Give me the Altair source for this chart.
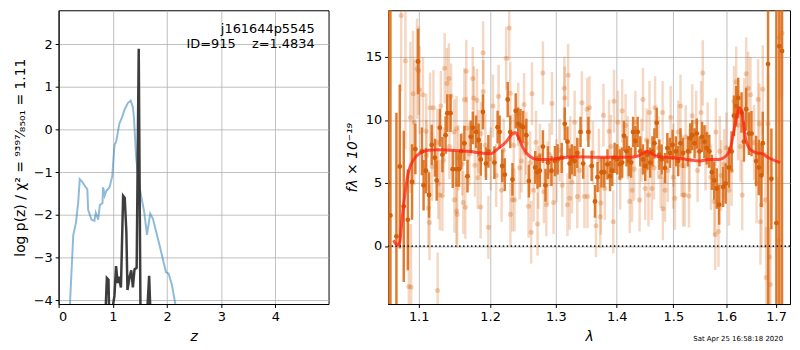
import altair as alt
import pandas as pd

# ---------------- left panel: log p(z) ----------------
blue_z = [0.19, 0.21, 0.27, 0.32, 0.36, 0.39, 0.44, 0.50, 0.53, 0.545, 0.605, 0.66, 0.685, 0.73, 0.76,
          0.81, 0.82, 0.85, 0.88, 0.94, 0.99, 1.03, 1.06, 1.09, 1.12, 1.17, 1.22, 1.28, 1.33, 1.37,
          1.39, 1.43, 1.49, 1.58, 1.63, 1.69, 1.74, 1.86, 1.98, 2.03, 2.09, 2.16, 2.25]
blue_lp = [-5.0, -4.07, -2.48, -2.18, -1.73, -1.16, -1.23, -1.35, -1.40, -1.88, -2.11, -2.14, -1.95, -2.11, -1.77,
           -1.72, -1.35, -1.55, -1.44, -1.35, -1.09, -0.36, -0.29, -0.08, 0.14, 0.29, 0.48, 0.63, 0.68, 0.53,
           0.28, -0.65, -1.33, -1.94, -2.47, -1.97, -2.09, -2.70, -3.34, -3.38, -3.64, -4.14, -5.0]

black_z = [0.86, 0.87, 0.89, 0.92, 0.93, 0.95, 1.00, 1.03, 1.06, 1.09, 1.11, 1.15, 1.19, 1.22,
           1.25, 1.27, 1.31, 1.34, 1.37, 1.40, 1.44, 1.478, 1.51, 1.55, 1.64, 1.67, 1.69, 1.72]
black_lp = [-6, -4.14, -3.48, -3.52, -4.14, -6, -4.14, -3.9, -3.2, -3.6, -3.45, -3.7, -1.55, -1.6,
            -2.4, -3.76, -3.45, -3.3, -3.7, -3.28, -3.24, 1.9, -4.2, -6, -4.14, -3.43, -4.14, -6]

label_lines = ["j161644p5545", "ID=915\u00a0\u00a0\u00a0\u00a0z=1.4834"]

# ---------------- right panel: spectrum ----------------
dark_lam = [1.0600, 1.0628, 1.0706, 1.0750, 1.0802, 1.0856, 1.0912, 1.0956, 1.0991, 1.1044, 1.1066, 1.1097,
            1.1140, 1.1176, 1.1221, 1.1244, 1.1287, 1.1323, 1.1367, 1.1390, 1.1435, 1.1466, 1.1518, 1.1554,
            1.1584, 1.1630, 1.1674, 1.1720, 1.1750, 1.1797, 1.1833, 1.1864, 1.1896, 1.1940, 1.1975, 1.2063,
            1.2110, 1.2140, 1.2179, 1.2216, 1.2260, 1.2298, 1.2331, 1.2380, 1.2418, 1.2452, 1.2492, 1.2541,
            1.2580, 1.2678, 1.2712, 1.2749, 1.2797, 1.2837, 1.2876, 1.2931, 1.2986, 1.3028, 1.3093, 1.3142,
            1.3185, 1.3221, 1.3258, 1.3301, 1.3344, 1.3397, 1.3440, 1.3526, 1.3580, 1.3635, 1.3677, 1.3743,
            1.3788, 1.3843, 1.3887, 1.3925, 1.3965, 1.4009, 1.4054, 1.4094, 1.4124, 1.4169, 1.4208, 1.4247,
            1.4282, 1.4322, 1.4362, 1.4408, 1.4455, 1.4495, 1.4535, 1.4583, 1.4623, 1.4658, 1.4699, 1.4747,
            1.4789, 1.4849, 1.4891, 1.4939, 1.4986, 1.5047, 1.5089, 1.5131, 1.5178, 1.5270, 1.5312, 1.5349,
            1.5393, 1.5435, 1.5485, 1.5533, 1.5578, 1.5621, 1.5671, 1.5721, 1.5766, 1.5815, 1.5861, 1.5937,
            1.5988, 1.6052, 1.6103, 1.6149, 1.6194, 1.6233, 1.6299, 1.6346, 1.6392, 1.6445, 1.6497, 1.6591,
            1.6645, 1.6698, 1.6726, 1.6834, 1.6902, 1.7005, 1.7067, 1.7122]
dark_flux = [5.0, 2.43, 0.77, 6.31, 3.15, 2.08, 5.08, 7.69, 14.64, 7.51, 4.82, 5.97,
             4.05, 8.02, 7.00, 5.20, 9.38, 7.25, 8.79, 10.54, 10.54, 6.10, 6.10, 6.10,
             7.51, 8.15, 5.54, 8.66, 9.38, 9.05, 8.41, 6.87, 10.64, 6.54, 7.51, 6.62,
             9.43, 9.05, 6.35, 5.66, 11.62, 9.05, 5.28, 10.72, 9.69, 9.56, 9.43, 8.79,
             5.15, 6.23, 5.85, 5.97, 7.89, 4.82, 6.62, 5.97, 6.74, 6.87, 7.00, 9.69,
             8.28, 6.54, 6.87, 6.74, 7.38, 9.05, 6.54, 9.05, 6.35, 3.54, 5.46, 5.85,
             5.85, 6.48, 5.54, 5.97, 7.00, 6.87, 6.48, 6.62, 8.74, 7.51, 6.74, 6.62,
             9.05, 8.33, 9.05, 7.51, 6.87, 6.35, 7.25, 6.62, 7.51, 8.15, 9.77, 7.25,
             6.87, 6.18, 7.77, 7.38, 8.02, 7.51, 6.74, 8.15, 7.38, 7.51, 8.54, 8.79,
             8.15, 8.92, 7.51, 8.66, 8.28, 7.77, 7.51, 5.85, 5.20, 4.56, 3.28, 4.69,
             4.95, 6.23, 7.50, 10.33, 11.10, 11.74, 10.59, 8.28, 10.85, 8.92, 8.92, 6.74,
             6.23, 5.60, 8.15, 14.43, 5.33, 1.82, 15.85, 15.46]
dark_err = [25, 25, 9.8, 6.5, 6.0, 4.0, 3.0, 2.0, 2.6, 1.9, 2.0, 1.8,
            1.8, 1.6, 1.5, 1.6, 1.5, 1.4, 1.5, 1.5, 1.5, 1.5, 1.4, 1.4,
            1.4, 1.4, 1.3, 1.3, 1.3, 1.3, 1.3, 1.3, 1.4, 1.3, 1.3, 1.3,
            1.3, 1.3, 1.3, 1.3, 1.4, 1.3, 1.3, 1.4, 1.3, 1.3, 1.3, 1.3,
            1.3, 1.3, 1.3, 1.3, 1.3, 1.3, 1.3, 1.2, 1.2, 1.2, 1.2, 1.3,
            1.2, 1.2, 1.2, 1.2, 1.2, 1.2, 1.2, 1.2, 1.2, 1.3, 1.2, 1.2,
            1.2, 1.2, 1.2, 1.2, 1.2, 1.2, 1.2, 1.2, 1.2, 1.2, 1.2, 1.2,
            1.2, 1.2, 1.2, 1.2, 1.2, 1.2, 1.2, 1.2, 1.2, 1.2, 1.2, 1.2,
            1.2, 1.2, 1.2, 1.2, 1.2, 1.2, 1.2, 1.2, 1.2, 1.2, 1.2, 1.2,
            1.2, 1.2, 1.2, 1.2, 1.3, 1.3, 1.3, 1.4, 1.5, 1.6, 1.6, 1.6,
            1.6, 1.6, 1.6, 1.6, 1.6, 1.6, 1.6, 1.6, 1.7, 1.7, 1.8, 2.0,
            2.2, 2.5, 2.5, 25, 4.0, 25, 25, 25]

light_lam = [1.0768, 1.0824, 1.0869, 1.0890, 1.0899, 1.0925, 1.0942, 1.0978, 1.1000, 1.1013, 1.1057, 1.1101,
             1.1105, 1.1132, 1.1146, 1.1154, 1.1180, 1.1199, 1.1250, 1.1257, 1.1266, 1.1287, 1.1301, 1.1323,
             1.1340, 1.1354, 1.1385, 1.1412, 1.1420, 1.1443, 1.1487, 1.1490, 1.1518, 1.1519, 1.1528, 1.1545,
             1.1600, 1.1613, 1.1630, 1.1644, 1.1657, 1.1664, 1.1700, 1.1750, 1.1764, 1.1780, 1.1809, 1.1822,
             1.1831, 1.1862, 1.1866, 1.1898, 1.1900, 1.1930, 1.1975, 1.2010, 1.2042, 1.2090, 1.2124, 1.2169,
             1.2200, 1.2237, 1.2283, 1.2298, 1.2300, 1.2331, 1.2350, 1.2361, 1.2418, 1.2440, 1.2467, 1.2507,
             1.2520, 1.2541, 1.2575, 1.2600, 1.2615, 1.2628, 1.2653, 1.2690, 1.2714, 1.2725, 1.2750, 1.2797,
             1.2812, 1.2850, 1.2870, 1.2901, 1.2939, 1.2964, 1.3011, 1.3060, 1.3102, 1.3135, 1.3142, 1.3185,
             1.3196, 1.3221, 1.3230, 1.3258, 1.3301, 1.3344, 1.3380, 1.3419, 1.3461, 1.3505, 1.3510, 1.3543,
             1.3600, 1.3651, 1.3700, 1.3722, 1.3733, 1.3776, 1.3799, 1.3870, 1.3900, 1.3942, 1.3954, 1.4021,
             1.4060, 1.4094, 1.4152, 1.4190, 1.4225, 1.4265, 1.4300, 1.4322, 1.4396, 1.4430, 1.4455, 1.4495,
             1.4520, 1.4553, 1.4570, 1.4611, 1.4650, 1.4670, 1.4730, 1.4771, 1.4806, 1.4810, 1.4849, 1.4900,
             1.4951, 1.4997, 1.5000, 1.5028, 1.5089, 1.5131, 1.5150, 1.5178, 1.5209, 1.5227, 1.5288, 1.5300,
             1.5349, 1.5422, 1.5450, 1.5515, 1.5547, 1.5600, 1.5640, 1.5702, 1.5766, 1.5785, 1.5797, 1.5848,
             1.5873, 1.5900, 1.5957, 1.6000, 1.6052, 1.6103, 1.6149, 1.6194, 1.6230, 1.6279, 1.6312, 1.6350,
             1.6392, 1.6431, 1.6477, 1.6550, 1.6600, 1.6631, 1.6658, 1.6678, 1.6698, 1.6726, 1.6780, 1.6794,
             1.6834, 1.6861, 1.6881, 1.7040, 1.7067, 1.7122]
light_flux = [18.28, 14.69, -3.21, 10.20, -3.26, 12.08, 9.82, 14.05, 13.92, 12.38, 12.00, 9.10,
              7.20, 3.02, 1.87, 10.97, 6.30, 10.97, 8.20, -3.52, 4.95, 4.05, 11.10, 4.00,
              6.80, 14.10, 12.90, 13.28, 7.90, 11.87, 9.05, 3.66, 2.77, 9.30, 2.51, 7.00,
              6.50, 3.46, 11.62, 3.08, 13.87, 9.35, 7.30, 13.28, 11.74, 6.40, 11.56, 5.41,
              8.28, 3.10, 8.92, 15.33, 12.25, 8.00, 1.48, 6.90, 11.10, 5.60, 11.87, 4.43,
              7.60, 14.90, 17.30, 12.12, 2.51, 3.66, 8.00, 3.66, 10.46, 6.20, 6.74, 11.23,
              7.40, 8.15, 3.15, 6.60, 1.10, 12.08, 4.43, 8.23, 1.74, 5.46, 7.20, 13.72,
              4.31, 3.28, 5.80, 7.25, 11.31, 3.46, 5.97, 7.60, 4.82, 12.51, 11.74, 3.28,
              13.54, 3.79, 7.80, 5.08, 9.82, 3.92, 6.00, 11.36, 3.92, 10.85, 3.92, 10.97,
              7.40, 1.61, 6.80, 2.33, 3.41, 10.38, 4.56, 9.10, 7.90, 1.92, 11.48, 9.82,
              5.40, 10.72, 9.56, 7.80, 3.54, 4.43, 6.10, 9.82, 3.66, 7.60, 11.62, 4.56,
              8.40, 4.05, 10.59, 4.56, 6.20, 10.97, 7.80, 5.51, 10.59, 2.95, 4.43, 6.00,
              10.20, 5.46, 7.20, 3.79, 9.05, 11.10, 6.40, 4.05, 4.05, 8.66, 3.97, 6.80,
              10.33, 9.82, 6.00, 10.59, 13.72, 7.00, 8.79, 5.46, 3.54, 0.89, 9.05, 1.15,
              7.51, 5.60, 6.48, 7.80, 4.43, 5.97, 11.48, 13.02, 9.60, 7.89, 4.05, 10.40,
              13.66, 12.51, 12.00, 8.20, 5.00, 11.62, 9.69, 1.92, 3.28, 12.43, 3.66, -2.49,
              9.69, -0.88, -3.05, 0.46, 16.54, 16.87]
light_err = [6, 7, 5, 6, 5, 5, 5, 4, 3.5, 3.5, 3, 3,
             2.8, 3, 3, 2.8, 2.7, 3, 2.7, 3, 2.8, 2.8, 2.8, 2.8,
             2.6, 2.8, 2.8, 2.8, 2.6, 2.6, 2.6, 2.6, 2.6, 2.6, 2.6, 2.6,
             2.5, 2.5, 2.5, 2.5, 2.5, 2.5, 2.5, 2.5, 2.5, 2.5, 2.5, 2.5,
             2.5, 2.5, 2.5, 2.5, 2.5, 2.5, 2.5, 2.5, 2.5, 2.5, 2.5, 2.5,
             2.5, 2.5, 2.6, 2.5, 2.5, 2.5, 2.5, 2.5, 2.5, 2.5, 2.5, 2.5,
             2.5, 2.5, 2.5, 2.5, 2.5, 2.5, 2.5, 2.5, 2.5, 2.5, 2.5, 2.5,
             2.5, 2.5, 2.5, 2.5, 2.5, 2.5, 2.5, 2.5, 2.5, 2.5, 2.5, 2.5,
             2.5, 2.5, 2.5, 2.5, 2.5, 2.5, 2.5, 2.5, 2.5, 2.5, 2.5, 2.5,
             2.5, 2.5, 2.5, 2.5, 2.5, 2.5, 2.5, 2.5, 2.5, 2.5, 2.5, 2.5,
             2.5, 2.5, 2.5, 2.5, 2.5, 2.5, 2.5, 2.5, 2.5, 2.5, 2.5, 2.5,
             2.5, 2.5, 2.5, 2.5, 2.5, 2.5, 2.5, 2.5, 2.5, 2.5, 2.5, 2.5,
             2.5, 2.5, 2.5, 2.5, 2.5, 2.5, 2.5, 2.5, 2.5, 2.5, 2.5, 2.5,
             2.5, 2.5, 2.5, 2.5, 2.6, 2.6, 2.6, 2.6, 2.7, 2.8, 2.7, 2.8,
             2.8, 2.8, 2.8, 2.8, 2.8, 2.8, 2.8, 2.8, 2.8, 2.8, 2.8, 2.9,
             2.9, 2.9, 3.0, 3.0, 3.2, 3.2, 3.2, 3.4, 3.4, 3.5, 3.8, 4,
             4, 4.5, 4.5, 5, 5, 5]

model_lam = [1.0668, 1.0717, 1.0749, 1.0779, 1.0824, 1.0869, 1.0934, 1.1021, 1.1132, 1.1244, 1.1466, 1.1687,
             1.1869, 1.2005, 1.2096, 1.2230, 1.2322, 1.2378, 1.2418, 1.2492, 1.2592, 1.2714, 1.2876, 1.3093,
             1.3301, 1.3733, 1.4212, 1.4350, 1.4467, 1.4535, 1.4611, 1.4730, 1.4997, 1.5238, 1.5485, 1.5671,
             1.5861, 1.5988, 1.6085, 1.6169, 1.6259, 1.6312, 1.6378, 1.6477, 1.6612, 1.6708, 1.6845, 1.7083]
model_flux = [0.46, 0.08, 0.33, 2.12, 4.43, 5.97, 6.87, 7.38, 7.59, 7.64, 7.59, 7.51,
              7.38, 7.31, 7.64, 8.23, 8.85, 9.00, 8.66, 7.77, 7.12, 6.87, 6.87, 7.00,
              7.08, 7.05, 7.05, 7.12, 7.38, 7.51, 7.33, 7.08, 7.00, 6.87, 6.74, 6.87,
              6.87, 7.12, 7.89, 9.56, 10.97, 10.46, 8.54, 7.64, 7.38, 7.33, 7.00, 6.62]

lam_ticks = [1.1, 1.2, 1.3, 1.4, 1.5, 1.6, 1.7]
timestamp = "Sat Apr 25 16:58:18 2020"

FONT = "DejaVu Sans"
ORANGE = "#d8650f"

# ---------------- build left chart ----------------
blue_df = pd.DataFrame({"z": blue_z, "lp": blue_lp})
black_df = pd.DataFrame({"z": black_z, "lp": black_lp})

xs_left = alt.Scale(domain=[0, 4.98], nice=False, zero=False)
ys_left = alt.Scale(domain=[-4.09, 2.8], nice=False, zero=False)

xl = alt.X("z:Q", scale=xs_left,
           axis=alt.Axis(values=[0, 1, 2, 3, 4], title="z", titleFontStyle="italic"))
yl = alt.Y("lp:Q", scale=ys_left,
           axis=alt.Axis(values=[-4, -3, -2, -1, 0, 1, 2],
                         title="log p(z) / χ² = ⁹³⁹⁷⁄₈₅₀₁ = 1.11"))

blue = alt.Chart(blue_df).mark_line(color="#1f77b4", opacity=0.5, strokeWidth=2, clip=True).encode(x=xl, y=yl)
black = alt.Chart(black_df).mark_line(color="#333333", opacity=0.95, strokeWidth=2.5, clip=True).encode(x=xl, y=yl)

lab_df = pd.DataFrame({"t": label_lines, "yy": [23, 38]})
labels = alt.Chart(lab_df).mark_text(align="right", baseline="alphabetic", fontSize=13, font=FONT,
                                     color="black").encode(
    x=alt.value(258), y=alt.Y("yy:Q", scale=None), text="t:N")

left = alt.layer(blue, black, labels).properties(width=272, height=296)

# ---------------- build right chart ----------------
dark_df = pd.DataFrame({"lam": dark_lam, "f": dark_flux, "e": dark_err})
dark_df["lo"] = dark_df["f"] - dark_df["e"]
dark_df["hi"] = dark_df["f"] + dark_df["e"]
light_df = pd.DataFrame({"lam": light_lam, "f": light_flux, "e": light_err})
light_df["lo"] = light_df["f"] - light_df["e"]
light_df["hi"] = light_df["f"] + light_df["e"]
model_df = pd.DataFrame({"lam": model_lam, "f": model_flux})

xs_r = alt.Scale(type="log", domain=[1.0598, 1.729], nice=False)
ys_r = alt.Scale(domain=[-4.6, 18.7], nice=False, zero=False)

xr = alt.X("lam:Q", scale=xs_r, axis=alt.Axis(values=lam_ticks, format=".1f", title="λ",
                                               titleFontStyle="italic"))
yr_axis = alt.Axis(values=[0, 5, 10, 15], title="fλ × 10⁻¹⁹", titleFontStyle="italic")

light_bars = alt.Chart(light_df).mark_rule(color=ORANGE, opacity=0.25, strokeWidth=2.5, clip=True).encode(
    x=xr, y=alt.Y("lo:Q", scale=ys_r, axis=yr_axis), y2="hi:Q")
light_pts = alt.Chart(light_df).mark_circle(color=ORANGE, opacity=0.3, size=26, clip=True).encode(
    x=xr, y=alt.Y("f:Q", scale=ys_r, axis=yr_axis))
dark_bars = alt.Chart(dark_df).mark_rule(color="#dc6e1a", opacity=0.9, strokeWidth=2.5, clip=True).encode(
    x=xr, y=alt.Y("lo:Q", scale=ys_r, axis=yr_axis), y2="hi:Q")
dark_pts = alt.Chart(dark_df).mark_circle(color="#d5600a", opacity=1, size=24, clip=True).encode(
    x=xr, y=alt.Y("f:Q", scale=ys_r, axis=yr_axis))
zero = alt.Chart(pd.DataFrame({"y": [0]})).mark_rule(color="#222222", strokeWidth=1.8,
                                                     strokeDash=[1.5, 2.5]).encode(
    y=alt.Y("y:Q", scale=ys_r, axis=yr_axis))
model = alt.Chart(model_df).mark_line(color="#ff2010", opacity=0.75, strokeWidth=3, clip=True,
                                      interpolate="monotone").encode(
    x=xr, y=alt.Y("f:Q", scale=ys_r, axis=yr_axis))
stamp = alt.Chart(pd.DataFrame({"t": [timestamp]})).mark_text(fontSize=7, font=FONT, color="black",
                                                               align="right", baseline="alphabetic").encode(
    x=alt.value(398), y=alt.value(333), text="t:N")

right = alt.layer(light_bars, light_pts, dark_bars, dark_pts, zero, model, stamp).properties(width=405, height=296)

chart = alt.hconcat(left, right, spacing=15).properties(
    padding={"left": 4, "top": 0, "right": 0, "bottom": 0}
).configure_view(
    stroke="black", strokeWidth=1
).configure_axis(
    grid=True, gridColor="#b0b0b0", gridWidth=0.8,
    domainColor="black", domainWidth=1, tickColor="black", tickSize=3.5, tickWidth=1,
    labelFont=FONT, labelFontSize=13, labelColor="black",
    titleFont=FONT, titleFontSize=14, titleColor="black", titleFontWeight="normal",
    labelPadding=3
).configure_axisX(titlePadding=6).configure_axisY(titlePadding=6).configure_text(font=FONT)

chart.save("out.html", embed_options={"renderer": "svg", "actions": False})
